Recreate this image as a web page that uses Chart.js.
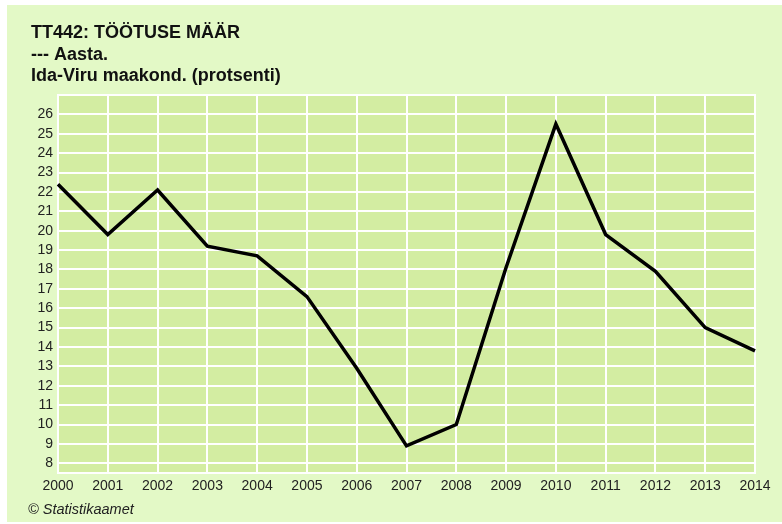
<!DOCTYPE html>
<html>
<head>
<meta charset="utf-8">
<script src="https://cdn.jsdelivr.net/npm/chart.js"></script>
<style>
    html, body { margin: 0; padding: 0; background: #ffffff; }
    #wrap { position: absolute; left: 7px; top: 5px; width: 775px; height: 517px; background: #e3f9c6; }
</style>
</head>
<body>
<div id="wrap"><canvas id="lineChart" width="775" height="517"></canvas></div>
<script>
// andmed
const years = ['2000', '2001', '2002', '2003', '2004', '2005', '2006', '2007',
               '2008', '2009', '2010', '2011', '2012', '2013', '2014'];
const unemploymentRate = [22.4, 19.8, 22.1, 19.2, 18.7, 16.6, 12.9, 8.9,
                          10.0, 18.1, 25.5, 19.8, 17.9, 15.0, 13.8];
const yTickValues = [8, 9, 10, 11, 12, 13, 14, 15, 16, 17, 18, 19, 20, 21, 22, 23, 24, 25, 26];
const titleLines = ['TT442: TÖÖTUSE MÄÄR', '--- Aasta.', 'Ida-Viru maakond. (protsenti)'];
const sourceText = '© Statistikaamet';

const plotBackground = {
    id: 'plotBackground',
    beforeDraw(chart) {
        const ctx = chart.ctx;
        const a = chart.chartArea;
        ctx.save();
        ctx.fillStyle = '#d3eda2';
        ctx.fillRect(a.left, a.top, a.right - a.left, a.bottom - a.top);
        ctx.restore();
    },
    beforeDatasetsDraw(chart) {
        const ctx = chart.ctx;
        const a = chart.chartArea;
        ctx.save();
        ctx.strokeStyle = '#ffffff';
        ctx.lineWidth = 2;
        ctx.strokeRect(a.left, a.top, a.right - a.left, a.bottom - a.top);
        ctx.restore();
    },
    afterDraw(chart) {
        const ctx = chart.ctx;
        ctx.save();
        ctx.fillStyle = '#111111';
        ctx.textBaseline = 'alphabetic';
        ctx.font = 'bold 18px "Liberation Sans", Arial, sans-serif';
        ctx.fillText(titleLines[0], 24, 33);
        ctx.fillText(titleLines[1], 24, 54.5);
        ctx.fillText(titleLines[2], 24, 76);
        ctx.font = 'italic 14.5px "Liberation Sans", Arial, sans-serif';
        ctx.fillStyle = '#222222';
        ctx.fillText(sourceText, 21, 509);
        ctx.restore();
    }
};

const canvas = document.getElementById('lineChart').getContext('2d');

new Chart(canvas, {
    type: 'line',
    data: {
        labels: years,
        datasets: [{
            data: unemploymentRate,
            borderColor: '#000000',
            borderWidth: 3.5,
            pointRadius: 0,
            tension: 0,
            fill: false
        }]
    },
    options: {
        responsive: false,
        animation: false,
        layout: { padding: { top: 90, right: 27, left: 0, bottom: 0 } },
        plugins: {
            legend: { display: false },
            tooltip: { enabled: false }
        },
        scales: {
            x: {
                offset: false,
                grid: { color: '#ffffff', lineWidth: 2, drawTicks: false },
                border: { display: false },
                ticks: {
                    padding: 5,
                    autoSkip: false,
                    maxRotation: 0,
                    color: '#222222',
                    font: { family: '"Liberation Sans", Arial, sans-serif', size: 14 }
                },
                afterFit(scale) { scale.height = 49; }
            },
            y: {
                min: 7.5,
                max: 27,
                grid: { color: '#ffffff', lineWidth: 2, drawTicks: false },
                border: { display: false },
                afterBuildTicks(scale) {
                    scale.ticks = yTickValues.map(v => ({ value: v }));
                },
                ticks: {
                    padding: 5,
                    color: '#222222',
                    font: { family: '"Liberation Sans", Arial, sans-serif', size: 14 }
                },
                afterFit(scale) { scale.width = 51; }
            }
        }
    },
    plugins: [plotBackground]
});
</script>
</body>
</html>
